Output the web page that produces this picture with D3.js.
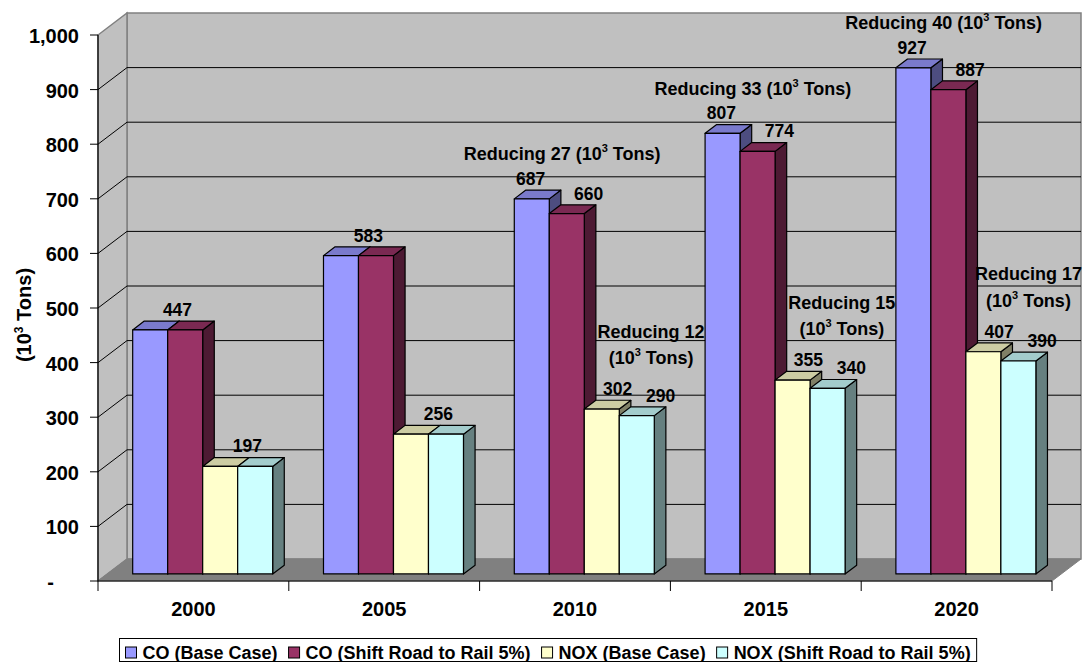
<!DOCTYPE html>
<html>
<head>
<meta charset="utf-8">
<script src="https://cdn.jsdelivr.net/npm/d3@7"></script>
<style>
  body { margin: 0; background: #fff; }
  svg { display: block; }
  text { font-family: "Liberation Sans", Arial, sans-serif; font-weight: bold; fill: #000; }
</style>
</head>
<body>
<svg id="chart" width="1084" height="662"></svg>
<script>
// ---- data ----
const years = ["2000", "2005", "2010", "2015", "2020"];
const seriesNames = ["CO (Base Case)", "CO (Shift Road to Rail 5%)", "NOX (Base Case)", "NOX (Shift Road to Rail 5%)"];
const coBase   = [447, 583, 687, 807, 927];
const coShift  = [447, 583, 660, 774, 887];
const noxBase  = [197, 256, 302, 355, 407];
const noxShift = [197, 256, 290, 340, 390];
const yTicks = [0, 100, 200, 300, 400, 500, 600, 700, 800, 900, 1000];

// ---- styling ----
const seriesColors = ["#9999FF", "#993366", "#FFFFCC", "#CCFFFF"];
const wallFill = "#C0C0C0", floorFill = "#808080", edgeGray = "#808080";
const labelShift = [-7, 16, 10, 18];   // horizontal nudge of value labels per series
const values = [coBase, coShift, noxBase, noxShift];

const W = 1084;
const svg = d3.select("#chart");

// ---- 3D frame: front plane plus a receding depth offset ----
const DX = 29, DY = 22;          // full depth offset of the plot box
const T0 = 0.32, T1 = 0.72;      // bar front / back depth fractions
const x = d3.scaleBand().domain(years).range([98, 1052]);
const xs = d3.scaleBand().domain(d3.range(4)).range([0, x.bandwidth()]).paddingInner(0).paddingOuter(0.726);
const y = d3.scaleLinear().domain([0, 1000]).range([581, 35]);
const proj = (px, v, t) => [px + DX * t, y(v) - DY * t];
const pts = arr => arr.map(p => p.join(",")).join(" ");
const x0 = x.range()[0], x1 = x.range()[1];
const vMax = y.domain()[1];

function shade(c, k) {
  const r = d3.rgb(c);
  return d3.rgb(r.r * k, r.g * k, r.b * k).formatHex();
}

// walls and floor
svg.append("polygon")
  .attr("points", pts([proj(x0, 0, 1), proj(x1, 0, 1), proj(x1, vMax, 1), proj(x0, vMax, 1)]))
  .attr("fill", wallFill).attr("stroke", edgeGray).attr("stroke-width", 1.5);
svg.append("polygon")
  .attr("points", pts([proj(x0, 0, 0), proj(x0, 0, 1), proj(x0, vMax, 1), proj(x0, vMax, 0)]))
  .attr("fill", wallFill).attr("stroke", edgeGray).attr("stroke-width", 1.5);
svg.append("polygon")
  .attr("points", pts([proj(x0, 0, 0), proj(x1, 0, 0), proj(x1, 0, 1), proj(x0, 0, 1)]))
  .attr("fill", floorFill).attr("stroke", floorFill);

// gridlines across side wall and back wall
svg.append("g").selectAll("polyline")
  .data(yTicks.filter(v => v > 0 && v < vMax))
  .join("polyline")
  .attr("points", v => pts([proj(x0, v, 0), proj(x0, v, 1), proj(x1, v, 1)]))
  .attr("fill", "none").attr("stroke", "#000").attr("stroke-width", 1);

// value axis
svg.append("line")
  .attr("x1", x0).attr("x2", x0).attr("y1", y(0)).attr("y2", y(vMax))
  .attr("stroke", "#000").attr("stroke-width", 1.2);
const yAxisG = svg.append("g");
yAxisG.selectAll("line").data(yTicks).join("line")
  .attr("x1", x0 - 8).attr("x2", x0).attr("y1", d => y(d)).attr("y2", d => y(d))
  .attr("stroke", "#000");
const fmt = d3.format(",");
yAxisG.selectAll("text").data(yTicks).join("text")
  .attr("x", d => d === 0 ? x0 - 44 : x0 - 19)
  .attr("y", d => y(d) + 8)
  .attr("text-anchor", "end")
  .style("font-size", "20px")
  .text(d => d === 0 ? "-" : fmt(d));

// category axis
svg.append("line")
  .attr("x1", x0).attr("x2", x1).attr("y1", y(0)).attr("y2", y(0))
  .attr("stroke", "#000").attr("stroke-width", 1.2);
const xAxisG = svg.append("g");
xAxisG.selectAll("line").data(years.concat(["end"])).join("line")
  .attr("x1", (d, i) => x0 + i * x.step()).attr("x2", (d, i) => x0 + i * x.step())
  .attr("y1", y(0)).attr("y2", y(0) + 10)
  .attr("stroke", "#000");
xAxisG.selectAll("text").data(years).join("text")
  .attr("x", d => x(d) + x.bandwidth() / 2)
  .attr("y", y(0) + 35)
  .attr("text-anchor", "middle")
  .style("font-size", "20px")
  .text(d => d);

// axis title with superscript
function supText(sel, before, sup, after, supSize, raise) {
  sel.append("tspan").text(before);
  sel.append("tspan").text(sup).style("font-size", supSize + "px").attr("dy", -raise);
  sel.append("tspan").text(after).attr("dy", raise);
}
const yTitle = svg.append("text")
  .attr("transform", `translate(24,${(y(0) + y(vMax)) / 2 + 7}) rotate(-90)`)
  .attr("text-anchor", "middle")
  .attr("dy", "0.35em")
  .style("font-size", "20px");
supText(yTitle, "(10", "3", " Tons)", 12, 8);

// ---- 3D columns ----
const barsG = svg.append("g");
years.forEach((yr, i) => {
  for (let s = 0; s < 4; s++) {
    const L = x(yr) + xs(s), R = L + xs.bandwidth(), v = values[s][i];
    const g = barsG.append("g").attr("stroke", "#000").attr("stroke-width", 1.2).attr("stroke-linejoin", "round");
    g.append("polygon")
      .attr("points", pts([proj(R, 0, T0), proj(R, 0, T1), proj(R, v, T1), proj(R, v, T0)]))
      .attr("fill", shade(seriesColors[s], 0.5));
    g.append("polygon")
      .attr("points", pts([proj(L, v, T0), proj(R, v, T0), proj(R, v, T1), proj(L, v, T1)]))
      .attr("fill", shade(seriesColors[s], 0.8));
    g.append("polygon")
      .attr("points", pts([proj(L, 0, T0), proj(R, 0, T0), proj(R, v, T0), proj(L, v, T0)]))
      .attr("fill", seriesColors[s]);
  }
});

// ---- value labels and reduction notes ----
const topCenterX = (i, s) => x(years[i]) + xs(s) + xs.bandwidth() / 2 + DX * (T0 + T1) / 2;
const frontTopY = v => y(v) - DY * T0;
const labelsG = svg.append("g");
years.forEach((yr, i) => {
  [[0, 1], [2, 3]].forEach(([a, b]) => {
    const va = values[a][i], vb = values[b][i];
    if (va === vb) {
      labelsG.append("text")
        .attr("x", (topCenterX(i, a) + topCenterX(i, b)) / 2 + 4)
        .attr("y", frontTopY(va) - 14)
        .attr("text-anchor", "middle").style("font-size", "17.5px")
        .text(va);
    } else {
      [a, b].forEach(s => {
        labelsG.append("text")
          .attr("x", topCenterX(i, s) + labelShift[s])
          .attr("y", frontTopY(values[s][i]) - 14)
          .attr("text-anchor", "middle").style("font-size", "17.5px")
          .text(values[s][i]);
      });
    }
  });

  // CO reduction note (one line, above the pair)
  const dCO = coBase[i] - coShift[i];
  if (dCO > 0) {
    const t = labelsG.append("text")
      .attr("x", (topCenterX(i, 0) + topCenterX(i, 1)) / 2 + 7)
      .attr("y", frontTopY(coBase[i]) - 45 + 6.5)
      .attr("text-anchor", "middle").style("font-size", "18px");
    supText(t, `Reducing ${dCO} (10`, "3", " Tons)", 11, 8);
  }
  // NOX reduction note (two lines), kept inside the canvas
  const dNOX = noxBase[i] - noxShift[i];
  if (dNOX > 0) {
    let cx = (topCenterX(i, 2) + topCenterX(i, 3)) / 2 + 26;
    const cy = frontTopY(noxBase[i]) - 78;
    const t1 = labelsG.append("text")
      .attr("y", cy + 6.5)
      .attr("text-anchor", "middle").style("font-size", "18px")
      .text(`Reducing ${dNOX}`);
    const t2 = labelsG.append("text")
      .attr("y", cy + 26.5 + 6.5)
      .attr("text-anchor", "middle").style("font-size", "18px");
    supText(t2, "(10", "3", " Tons)", 11, 8);
    const half = Math.max(t1.node().getComputedTextLength(), t2.node().getComputedTextLength()) / 2;
    cx = Math.min(cx, W - 2 - half);
    t1.attr("x", cx);
    t2.attr("x", cx);
  }
});

// ---- legend ----
const legend = svg.append("g");
const legBox = legend.append("rect").attr("fill", "#fff").attr("stroke", "#000").attr("stroke-width", 1);
let cursor = 6;
seriesNames.forEach((name, s) => {
  const g = legend.append("g");
  g.append("rect").attr("x", cursor).attr("y", 8.5).attr("width", 11).attr("height", 11)
    .attr("fill", seriesColors[s]).attr("stroke", "#000").attr("stroke-width", 1);
  const tx = g.append("text").attr("x", cursor + 17).attr("y", 20.5).style("font-size", "18px").text(name);
  cursor += 17 + tx.node().getComputedTextLength() + 11;
});
const legW = cursor - 11 + 6;
legBox.attr("x", 0).attr("y", 0).attr("width", legW).attr("height", 23);
legend.attr("transform", `translate(${Math.round(548 - legW / 2) + 0.5},638.5)`);
</script>
</body>
</html>
